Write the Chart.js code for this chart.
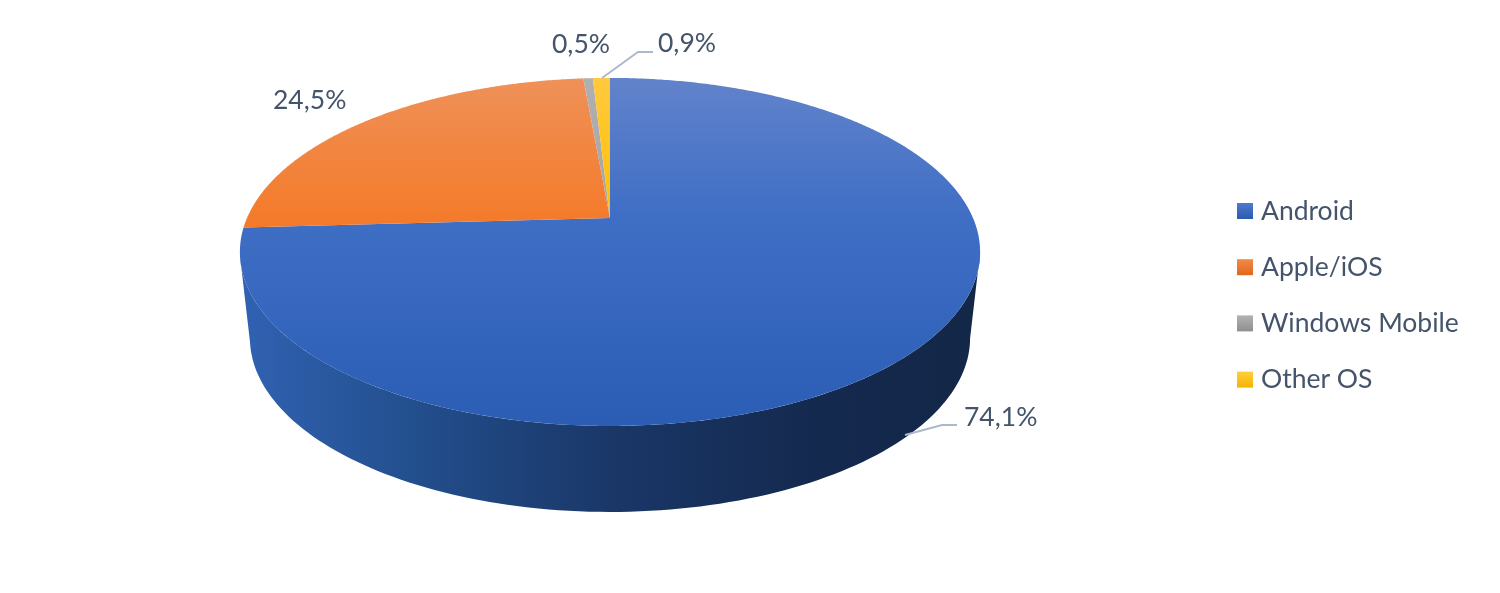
<!DOCTYPE html>
<html>
<head>
<meta charset="utf-8">
<title>Mobile OS share</title>
<script src="https://cdn.jsdelivr.net/npm/chart.js@4"></script>
<style>
  html,body{margin:0;padding:0;background:#fff;}
  canvas{display:block;}
</style>
</head>
<body>
<canvas id="chartOS" width="1500" height="593"></canvas>
<script>
const categories = ['Android','Apple/iOS','Windows Mobile','Other OS'];
const shares = [74.1,24.5,0.5,0.9];

// vertical gradient of the top face, per slice
const faceStops = [
  ['#6283cb','#3f6ec5','#2b5db5'],
  ['#ef9159','#f47b2b','#e2661a'],
  ['#b0b0b0','#a5a5a5','#9a9a9a'],
  ['#ffc93f','#ffc000','#f0b400']
];
const swatchStops = [
  ['#5079cc','#2b5bb0'],
  ['#f28a4a','#e2661a'],
  ['#b2b2b2','#8f8f8f'],
  ['#ffcf3c','#f2b400']
];

const TEXT = '#44546a', LEADER = '#adb9ca';
const FONT = '26.5px Lato';

// pie geometry, seen in perspective
const PIE = { cx:610, apexY:218, k:0.195, R:363, b:167.4, top:78, bottom:426, midY:252 };
const BASE = { midY:338, scale:360/370 };

// label spots: x, text middle y
const labelSpots = [[964,417],[273,100],[552,44],[658,43]];
const leaders = [
  [[905,435],[942,425],[957,425]],
  null,
  null,
  [[602,78],[638,52],[653,52]]
];

function project(a){
  const w = 1 - PIE.k*Math.sin(a);
  return { x: PIE.cx + PIE.R*Math.cos(a)/w, y: PIE.apexY + PIE.b*Math.sin(a)/w };
}
function projectBase(a){
  const p = project(a);
  return { x: PIE.cx + (p.x-PIE.cx)*BASE.scale, y: BASE.midY + (p.y-PIE.midY) };
}

function drawWall(ctx, arc){
  const steps = 200, front = [];
  for(let i=0;i<=steps;i++){
    const a = arc.startAngle + (arc.endAngle-arc.startAngle)*i/steps;
    if(Math.sin(a) >= PIE.k) front.push(a);
  }
  if(front.length < 2) return;
  const g = ctx.createLinearGradient(240,0,980,0);
  g.addColorStop(0,'#3162b3');
  g.addColorStop(0.22,'#23508f');
  g.addColorStop(0.5,'#1a3768');
  g.addColorStop(0.78,'#14294e');
  g.addColorStop(1,'#132748');
  ctx.fillStyle = g;
  ctx.beginPath();
  front.forEach((a,i)=>{
    const p = project(a);
    if(i===0) ctx.moveTo(p.x,p.y); else ctx.lineTo(p.x,p.y);
  });
  front.slice().reverse().forEach(a=>{
    const p = projectBase(a);
    ctx.lineTo(p.x,p.y);
  });
  ctx.closePath();
  ctx.fill();
}

function drawFace(ctx, arc, idx){
  const stops = faceStops[idx];
  const g = ctx.createLinearGradient(0,PIE.top,0,PIE.bottom);
  g.addColorStop(0,stops[0]);
  g.addColorStop(0.4,stops[1]);
  g.addColorStop(1,stops[2]);
  ctx.fillStyle = g;
  ctx.beginPath();
  ctx.moveTo(PIE.cx,PIE.apexY);
  const steps = Math.max(4,Math.ceil((arc.endAngle-arc.startAngle)*120));
  for(let i=0;i<=steps;i++){
    const p = project(arc.startAngle + (arc.endAngle-arc.startAngle)*i/steps);
    ctx.lineTo(p.x,p.y);
  }
  ctx.closePath();
  ctx.fill();
}

const pie3d = {
  id:'pie3d',
  beforeDatasetDraw(chart,args){
    const ctx = chart.ctx;
    const arcs = chart.getDatasetMeta(args.index).data;
    ctx.save();
    arcs.forEach(arc=>drawWall(ctx,arc));
    arcs.forEach((arc,i)=>drawFace(ctx,arc,i));
    ctx.restore();
    return false;
  },
  afterDraw(chart){
    const ctx = chart.ctx;
    ctx.save();
    // leader lines
    ctx.strokeStyle = LEADER;
    ctx.lineWidth = 2;
    leaders.forEach(pts=>{
      if(!pts) return;
      ctx.beginPath();
      pts.forEach((p,i)=> i ? ctx.lineTo(p[0],p[1]) : ctx.moveTo(p[0],p[1]));
      ctx.stroke();
    });
    // value labels
    ctx.font = FONT;
    ctx.fillStyle = TEXT;
    ctx.textBaseline = 'middle';
    ctx.textAlign = 'left';
    shares.forEach((v,i)=>{
      ctx.fillText(v.toFixed(1).replace('.',',')+'%', labelSpots[i][0], labelSpots[i][1]);
    });
    // legend
    categories.forEach((name,i)=>{
      const y = 211 + i*56.2;
      const g = ctx.createLinearGradient(0,y-8,0,y+8);
      g.addColorStop(0,swatchStops[i][0]);
      g.addColorStop(1,swatchStops[i][1]);
      ctx.fillStyle = g;
      ctx.fillRect(1237,y-8,16,16);
      ctx.fillStyle = TEXT;
      ctx.fillText(name,1261,y);
    });
    ctx.restore();
  }
};

new Chart(document.getElementById('chartOS'),{
  type:'pie',
  data:{ labels:categories, datasets:[{ data:shares, backgroundColor:faceStops.map(s=>s[1]), borderWidth:0 }] },
  options:{
    responsive:false,
    animation:false,
    events:[],
    plugins:{ legend:{display:false}, tooltip:{enabled:false} }
  },
  plugins:[pie3d]
});
</script>
</body>
</html>
